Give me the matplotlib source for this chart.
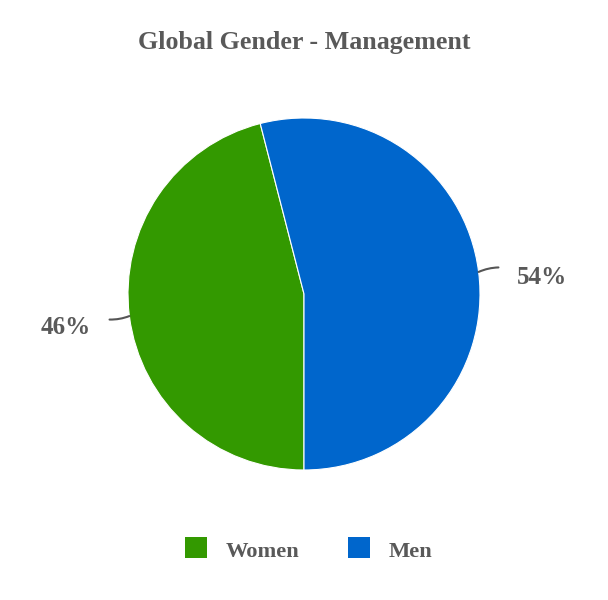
import numpy as np
import matplotlib
matplotlib.use("Agg")
import matplotlib.pyplot as plt
from matplotlib.patches import Rectangle

categories = ["Women", "Men"]
values = [46, 54]
colors = ["#339900", "#0066cc"]
title = "Global Gender - Management"

TXT = "#595959"
FONT = ["Liberation Serif", "DejaVu Serif"]

fig = plt.figure(figsize=(6.08, 6.0), dpi=100)
ax = fig.add_axes([0, 0, 1, 1])

cx, cy, r = 304, 600 - 294, 176
wedges, _ = ax.pie(values, colors=colors, startangle=-90, counterclock=False,
                   center=(cx, cy), radius=r, frame=True,
                   wedgeprops=dict(edgecolor="white", linewidth=0.8))
ax.set_xlim(0, 608)
ax.set_ylim(0, 600)
ax.set_aspect("equal")
ax.axis("off")

total = sum(values)
for w, v in zip(wedges, values):
    mid = np.deg2rad((w.theta1 + w.theta2) / 2)
    side = 1 if np.cos(mid) > 0 else -1
    x0, y0 = cx + r * np.cos(mid), cy + r * np.sin(mid)
    x1, y1 = cx + (r + 20) * np.cos(mid), cy + (r + 20) * np.sin(mid) + (2 if side > 0 else -1)
    ax.annotate("", xy=(x0, y0), xytext=(x1, y1),
                arrowprops=dict(arrowstyle="-", color="#555555", lw=1.5,
                                connectionstyle="arc3,rad=0.1", shrinkA=0, shrinkB=0))
    tx = x1 + side * 44
    ty = y1 - 8 if side < 0 else y1 - 10
    ax.text(tx, ty, f"{round(v / total * 100)}%", ha="center", va="center",
            fontsize=18, fontweight="bold", color=TXT, family=FONT)

fig.text(0.5, 1 - 42 / 600, title, ha="center", va="center", fontsize=18.7,
         fontweight="bold", color=TXT, family=FONT)

legend_x = [185, 348]
for lx, c, name in zip(legend_x, colors, categories):
    ax.add_patch(Rectangle((lx, 600 - 558), 22, 21, facecolor=c, edgecolor="none"))
    ax.text(lx + 41, 600 - 552, name, ha="left", va="center", fontsize=16.2,
            fontweight="bold", color=TXT, family=FONT)

fig.savefig("out.png", dpi=100, facecolor="white")
